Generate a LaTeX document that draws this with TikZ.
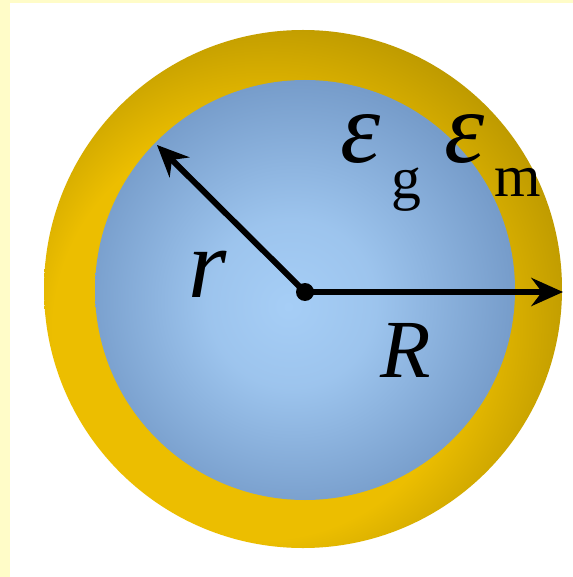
\documentclass[tikz,border=0pt]{standalone}
\usepackage{fontspec}
\setmainfont{Liberation Serif}
\usepackage{xcolor}
\usetikzlibrary{arrows.meta, positioning}

\definecolor{paleyellow}{RGB}{255,252,200}
\definecolor{goldlight}{RGB}{236,190,0}
\definecolor{golddark}{RGB}{146,120,0}
\definecolor{bluelight}{RGB}{166,206,246}
\definecolor{blueedge}{RGB}{118,156,202}
\pgfdeclareradialshading{shellshade}{\pgfpoint{-7bp}{-7bp}}{color(0bp)=(goldlight); color(20bp)=(goldlight); color(38bp)=(golddark); color(50bp)=(golddark)}
\pgfdeclareradialshading{coreshade}{\pgfpoint{-2bp}{-2bp}}{color(0bp)=(bluelight); color(10bp)=(bluelight!80!blueedge); color(26bp)=(blueedge); color(50bp)=(blueedge)}

\begin{document}
\begin{tikzpicture}[
    x=0.02cm, y=-0.02cm,
    dot/.style={circle, fill=black, inner sep=0pt, minimum size=0.36cm},
    vec/.style={line width=3.4pt, -{Stealth[length=18pt, width=16pt, inset=6pt]}},
    lbl/.style={anchor=base west, inner sep=0pt, text=black}
]
\useasboundingbox (0,0) rectangle (573,577);
\fill[white] (0,0) rectangle (573,577);
\fill[paleyellow] (0,0) rectangle (10,577);
\fill[paleyellow] (0,0) rectangle (573,3);

\coordinate (shellc) at (303,289);
\coordinate (corec) at (305,290);
\shade[shading=shellshade] (shellc) circle[radius=259];
\shade[shading=coreshade] (corec) circle[radius=210];

\node[dot] (O) at (305,292) {};
\coordinate (rtip) at (157,145);
\coordinate (Rtip) at (563,292);
\draw[vec] (O.center) -- (rtip);
\draw[vec] (O.center) -- (Rtip);

\node[lbl, font=\fontsize{56}{60}\selectfont] (rlab) at (188,297) {\textit{r}};
\node[lbl, font=\fontsize{47}{52}\selectfont] (Rlab) at (380,377) {\textit{R}};
\node[lbl, font=\fontsize{58}{62}\selectfont] (epsg) at (340,163) {\textit{ε}};
\node[lbl, font=\fontsize{34}{40}\selectfont] (subg) at (391,199) {g};
\node[lbl, font=\fontsize{58}{62}\selectfont] (epsm) at (444,163) {\textit{ε}};
\node[lbl, font=\fontsize{34}{40}\selectfont] (subm) at (494,197) {m};

\end{tikzpicture}
\end{document}
